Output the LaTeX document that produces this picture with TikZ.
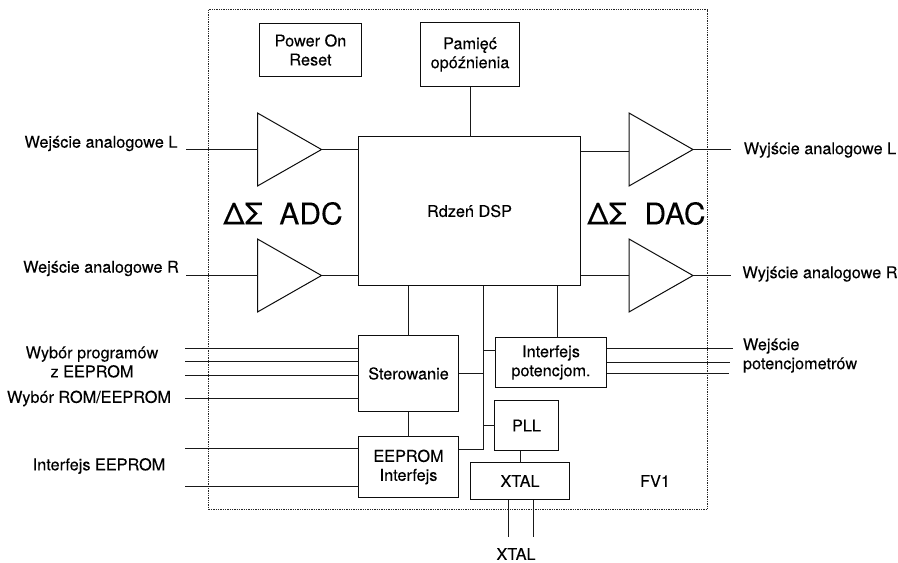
\documentclass[tikz,border=0pt]{standalone}
\usepackage{fontspec}
\setmainfont[FakeBold=0.12]{TeX Gyre Heros}
\usetikzlibrary{shapes.geometric}
\tikzset{
  x=0.75pt,y=-0.75pt,
  every node/.style={font=\fontsize{12.2}{14.25}\selectfont,inner sep=0pt,outer sep=0pt},
  wire/.style={line width=0.75pt,black!90},
  boxed/.style 2 args={draw=black!95,line width=0.75pt,fill=white,align=center,minimum width=#1*0.75pt,minimum height=#2*0.75pt},
  amp/.style={draw=black!95,line width=0.75pt,fill=white,isosceles triangle,isosceles triangle stretches,minimum width=73*0.75pt,minimum height=64*0.75pt,anchor=apex},
  frame/.style={draw=black!85,line width=0.8pt,dash pattern=on 1pt off 0.75pt},
  lbl/.style={align=center},
  big/.style={font=\fontsize{22.5}{24}\selectfont},
}
\begin{document}
\begin{tikzpicture}
\useasboundingbox (0,0) rectangle (898,562);
\node[frame,minimum width=499*0.75pt,minimum height=500*0.75pt] (chip) at (458,259.5) {};

% boxes
\node[boxed={102}{53}] (por) at (310.5,50) {Power On\\Reset};
\node[boxed={99}{64}] (mem) at (470,54.5) {Pamięć\\opóźnienia};
\node[boxed={222}{149}] (dsp) at (469.5,211) {Rdzeń DSP};
\node[boxed={100}{76}] (ster) at (408.5,373.5) {Sterowanie};
\node[boxed={100}{61}] (eep) at (408.5,467) {EEPROM\\Interfejs};
\node[boxed={111}{50}] (pot) at (551,362.5) {Interfejs\\potencjom.};
\node[boxed={64}{50}] (pll) at (526.5,425.5) {PLL};
\node[boxed={99}{37}] (xtal) at (520,481) {XTAL};

% amplifiers
\node[amp] (adcl) at (321.5,149.5) {};
\node[amp] (adcr) at (321.5,275.5) {};
\node[amp] (dacl) at (693,149.5) {};
\node[amp] (dacr) at (693,275.5) {};

% free ends and junctions
\coordinate (inl) at (186,149.5);
\coordinate (inr) at (186,275.5);
\coordinate (outl) at (731,149.5);
\coordinate (outr) at (731,275.5);
\coordinate (s1) at (185,348);
\coordinate (s2) at (185,361.5);
\coordinate (s3) at (185,375);
\coordinate (s4) at (185,398);
\coordinate (e1) at (185,448.5);
\coordinate (e2) at (185,486.5);
\coordinate (p1) at (733,348.5);
\coordinate (p2) at (730,362.5);
\coordinate (p3) at (729,373.5);
\coordinate (bus) at (483.5,285.5);
\coordinate (busend) at (483.5,449.5);
\coordinate (potin) at (557.5,285.5);
\coordinate (x1) at (508,537);
\coordinate (x2) at (533.5,537);
\coordinate (dl) at (580.5,151);
\coordinate (dr) at (580.5,275.5);
\coordinate (pstub) at (495.5,350.5);
\coordinate (xl) at (520.5,450.5);

% connectors
\draw[wire] (mem.south) -- (dsp.north -| mem.south);
\draw[wire] (inl) -- (adcl.west |- inl);
\draw[wire] (inr) -- (adcr.west |- inr);
\draw[wire] (adcl.apex) -- (dsp.west |- adcl.apex);
\draw[wire] (adcr.apex) -- (dsp.west |- adcr.apex);
\draw[wire] (dl) -- (dacl.west |- dl);
\draw[wire] (dr) -- (dacr.west |- dr);
\draw[wire] (dacl.apex) -- (outl);
\draw[wire] (dacr.apex) -- (outr);
\draw[wire] (dsp.south -| ster.north) -- (ster.north);
\draw[wire] (ster.south) -- (eep.north);
\draw[wire] (bus) -- (busend) -- (eep.east |- busend);
\draw[wire] (potin) -- (pot.north -| potin);
\draw[wire] (ster.east) -- (bus |- ster.east);
\draw[wire] (bus |- pstub) -- (pstub);
\draw[wire] (bus |- pll.west) -- (pll.west);
\draw[wire] (xl) -- (xtal.north -| xl);
\foreach \c in {s1,s2,s3,s4}{\draw[wire] (\c) -- (ster.west |- \c);}
\foreach \c in {e1,e2}{\draw[wire] (\c) -- (eep.west |- \c);}
\foreach \c in {p1,p2,p3}{\draw[wire] (pot.east |- \c) -- (\c);}
\foreach \c in {x1,x2}{\draw[wire] (xtal.south -| \c) -- (\c);}

% labels
\node[lbl] (linl) at (101,143.5) {Wejście analogowe L};
\node[lbl] (linr) at (101,268.5) {Wejście analogowe R};
\node[lbl] (lprog) at (92,362) {Wybór programów\\z EEPROM};
\node[lbl] (lrom) at (89,398.5) {Wybór ROM/EEPROM};
\node[lbl] (leep) at (99,466) {Interfejs EEPROM};
\node[lbl] (loutl) at (820,150) {Wyjście analogowe L};
\node[lbl] (loutr) at (820,274) {Wyjście analogowe R};
\node[align=left,anchor=west] (lpot) at (743,355.5) {Wejście\\potencjometrów};
\node[lbl] (lx) at (516,554) {XTAL};
\node[lbl] (fv) at (655,481) {FV1};
\node[big] (dsa) at (243,213.5) {ΔΣ};
\node[big] (adc) at (311,213.5) {ADC};
\node[big] (dsd) at (607,213.5) {ΔΣ};
\node[big] (dac) at (675,213.5) {DAC};
\end{tikzpicture}
\end{document}
